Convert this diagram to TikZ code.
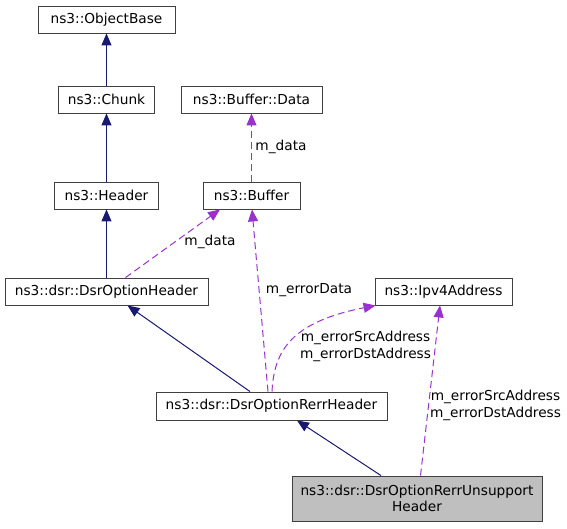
\documentclass[tikz,border=0pt]{standalone}
\usepackage{fontspec}
\setmainfont{DejaVu Sans}
\usetikzlibrary{arrows.meta}
\definecolor{inh}{RGB}{25,25,112}
\definecolor{usec}{RGB}{153,50,204}
\definecolor{bord}{RGB}{64,64,64}
\definecolor{hl}{RGB}{191,191,191}
\begin{document}
\begin{tikzpicture}[x=1pt,y=-1pt,
  cls/.style={draw=bord, line width=0.9pt, inner sep=0pt, minimum height=27pt,
    font=\fontsize{13.7}{16.5}\selectfont, align=center},
  inhe/.style={color=inh, line width=1pt, -{Triangle[length=12pt,width=10pt]}},
  usee/.style={color=usec, line width=1pt, dash pattern=on 7pt off 4pt,
    -{Triangle[length=12pt,width=10pt]}},
  lbl/.style={inner sep=0pt, font=\fontsize{13.7}{16.5}\selectfont, align=center}]
\useasboundingbox (0,0) rectangle (567,528);
\node[cls, minimum width=137pt] (ob) at (106.5,19.5) {ns3::ObjectBase};
\node[cls, minimum width=96pt] (chunk) at (106.5,99.5) {ns3::Chunk};
\node[cls, minimum width=141pt] (data) at (251.5,99.5) {ns3::Buffer::Data};
\node[cls, minimum width=104pt] (header) at (106.5,195.5) {ns3::Header};
\node[cls, minimum width=97pt] (buffer) at (251.5,195.5) {ns3::Buffer};
\node[cls, minimum width=203pt] (doh) at (106.5,291.5) {ns3::dsr::DsrOptionHeader};
\node[cls, minimum width=137pt] (ipv4) at (443.5,291.5) {ns3::Ipv4Address};
\node[cls, minimum width=231pt, minimum height=28pt] (rerr) at (271.5,406) {ns3::dsr::DsrOptionRerrHeader};
\node[cls, minimum width=250pt, minimum height=45pt, fill=hl] (uns) at (417,498.5) {ns3::dsr::DsrOptionRerrUnsupport\\Header};
% inheritance
\draw[inhe] (chunk.north) -- (ob.south);
\draw[inhe] (header.north) -- (chunk.south);
\draw[inhe] (doh.north) -- (header.south);
\draw[inhe] ([xshift=-21.5pt]rerr.north) -- ([xshift=21pt]doh.south);
\draw[inhe] ([xshift=-36pt]uns.north) -- ([xshift=25.5pt]rerr.south);
% usage
\draw[usee] (buffer.north) -- (data.south);
\node[lbl] (l1) at (281,147) {m\_data};
\draw[usee] ([xshift=19pt]doh.north) -- ([xshift=-31.5pt]buffer.south);
\node[lbl] (l2) at (210,242) {m\_data};
\draw[usee] ([xshift=-3.5pt]rerr.north) -- ([xshift=0.5pt]buffer.south);
\node[lbl] (l3) at (309,290) {m\_errorData};
\draw[usee] ([xshift=0.5pt]rerr.north) .. controls (274,350) and (292,322) .. ([xshift=1pt]ipv4.south west);
\node[lbl] (l4) at (365.5,346.5) {m\_errorSrcAddress\\m\_errorDstAddress};
\draw[usee] ([xshift=3.5pt]uns.north) -- ([xshift=-3.5pt]ipv4.south);
\node[lbl] (l5) at (495.5,405.5) {m\_errorSrcAddress\\m\_errorDstAddress};
\end{tikzpicture}
\end{document}
